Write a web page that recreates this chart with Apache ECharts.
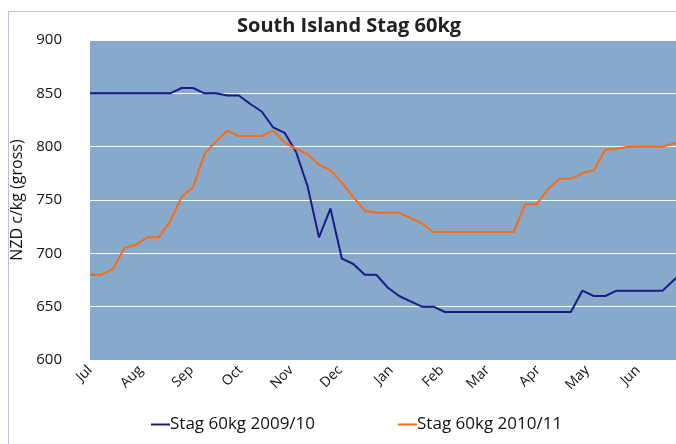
<!DOCTYPE html>
<html>
<head>
<meta charset="utf-8">
<script src="https://cdn.jsdelivr.net/npm/echarts@6/dist/echarts.min.js"></script>
<style>
html,body{margin:0;padding:0;background:#fff;}
#chart{width:676px;height:444px;}
</style>
</head>
<body>
<div id="chart"></div>
<script>
// Month tick labels and their day offsets from 1 July
const monthLabels = ['Jul','Aug','Sep','Oct','Nov','Dec','Jan','Feb','Mar','Apr','May','Jun'];
const monthStartDays = [0,31,62,92,123,153,184,215,243,274,304,335];
const yTicks = [600,650,700,750,800,850,900];

// Weekly observations (week index -> day offset = week*7)
const weekIndex = [0,1,2,3,4,5,6,7,8,9,10,11,12,13,14,15,16,17,18,19,20,21,22,23,24,25,26,
  27,28,29,30,31,32,33,34,35,36,37,38,39,40,41,42,43,44,45,46,47,48,49,50,51,52];

const stag2009 = [850,850,850,850,850,850,850,850,855,855,850,850,848,848,840,833,818,813,795,763,
  715,742,695,690,680,680,668,660,655,650,650,645,645,645,645,645,645,645,645,645,645,645,645,
  665,660,660,665,665,665,665,665,675,685];

const stag2010 = [680,680,685,705,708,715,715,730,753,762,793,805,815,810,810,810,815,804,798,793,
  783,778,766,753,740,738,738,738,733,728,720,720,720,720,720,720,720,720,746,746,760,770,770,
  775,778,797,798,800,800,800,800,803,805];

const seriesNames = ['Stag 60kg 2009/10','Stag 60kg 2010/11'];

function pairs(vals){ return vals.map((v,i)=>[weekIndex[i]*7, v]); }

const FONT = '"Open Sans", Lato, sans-serif';
const chart = echarts.init(document.getElementById('chart'), null, {renderer:'canvas'});
chart.setOption({
  animation:false,
  backgroundColor:'#ffffff',
  graphic:[{
    type:'rect', left:6, top:9, shape:{x:0,y:0,width:720,height:460},
    style:{fill:'none', stroke:'#b7c3d3', lineWidth:1}, silent:true, z:-1
  }],
  title:{
    text:'South Island Stag 60kg', left:232, top:11,
    textStyle:{fontFamily:FONT, fontSize:20, fontWeight:'bold', color:'#222'}
  },
  grid:{left:90, top:40, right:-11, bottom:84, show:true, backgroundColor:'#87a9cc',
        borderWidth:0, containLabel:false, outerBoundsMode:'none'},
  legend:{
    data:seriesNames, left:151, top:416, padding:0, itemWidth:19, itemHeight:2, itemGap:83,
    icon:'rect',
    textStyle:{fontFamily:FONT, fontSize:17, color:'#111', padding:[0,0,0,-5]}
  },
  xAxis:{
    type:'value', min:0, max:365,
    axisLine:{show:false}, axisTick:{show:false}, splitLine:{show:false},
    axisLabel:{
      customValues:monthStartDays, rotate:45, margin:8,
      fontFamily:FONT, fontSize:14, color:'#111',
      formatter:function(v){ const k = monthStartDays.indexOf(v); return k>=0 ? monthLabels[k] : ''; }
    }
  },
  yAxis:{
    type:'value', min:yTicks[0], max:yTicks[yTicks.length-1], interval:50,
    name:'NZD c/kg (gross)', nameLocation:'middle', nameGap:59, nameRotate:90,
    nameTextStyle:{fontFamily:FONT, fontSize:16, color:'#111'},
    axisLine:{show:false}, axisTick:{show:false},
    axisLabel:{fontFamily:FONT, fontSize:15, color:'#111', margin:28},
    splitLine:{lineStyle:{color:'#ffffff', width:1.2, opacity:0.95}}
  },
  series:[
    {name:seriesNames[0], type:'line', data:pairs(stag2009), symbol:'none',
     lineStyle:{color:'#1a1a8a', width:2}, itemStyle:{color:'#1a1a8a'}},
    {name:seriesNames[1], type:'line', data:pairs(stag2010), symbol:'none',
     lineStyle:{color:'#fb6a0c', width:2}, itemStyle:{color:'#fb6a0c'}}
  ]
});
</script>
</body>
</html>
